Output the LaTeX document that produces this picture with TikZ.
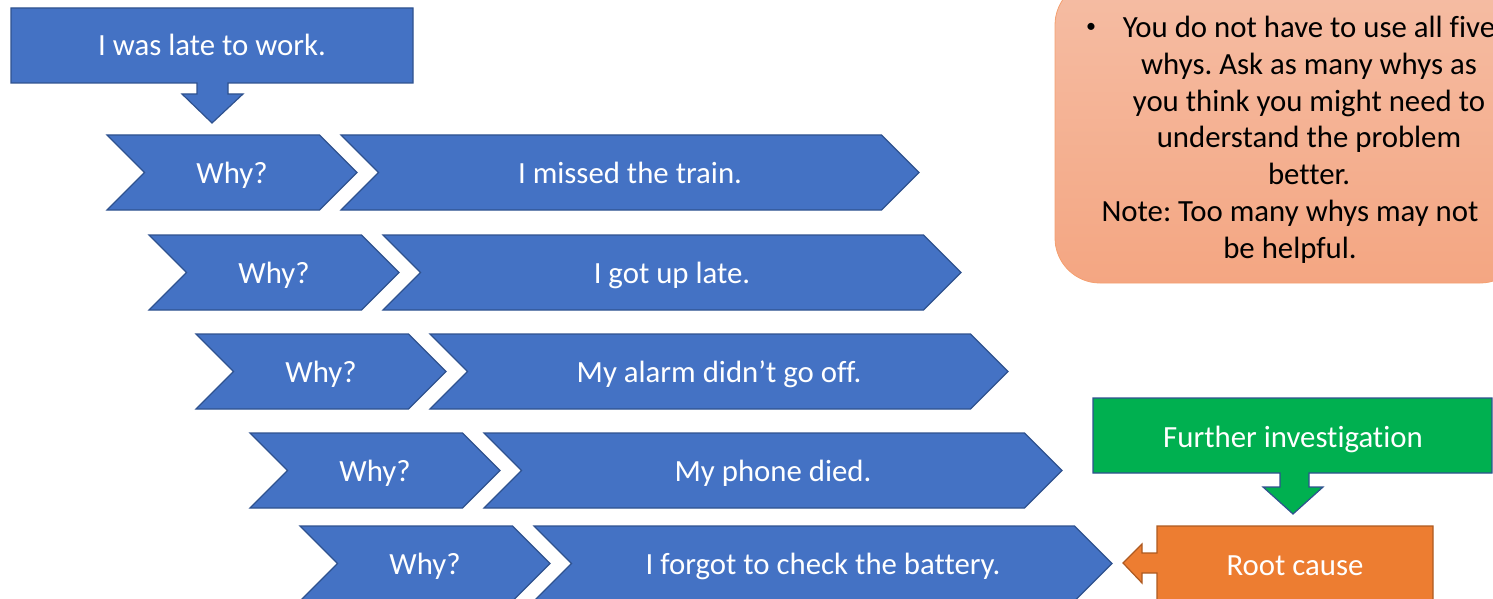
\documentclass[tikz,border=0pt]{standalone}
\usepackage{fontspec}
\setmainfont{Carlito}[Ligatures=NoCommon]
\frenchspacing
\definecolor{cblue}{HTML}{4472C4}
\definecolor{cblueline}{HTML}{2F528F}
\definecolor{cgreen}{HTML}{00B050}
\definecolor{corange}{HTML}{ED7D31}
\definecolor{corangeline}{HTML}{AE5A21}
\definecolor{notetop}{HTML}{F5BDA4}
\definecolor{notebot}{HTML}{F4A682}
\definecolor{noteline}{HTML}{F4A070}
\tikzset{
  chevbox/.style={fill=cblue, draw=cblueline, line width=1.2pt, line join=miter},
  wtxt/.style={text=white, font=\fontsize{30.8}{36}\selectfont, inner sep=0pt, text height=23pt, text depth=7pt},
  ntxt/.style={text=black, font=\fontsize{30.8}{36.8}\selectfont, inner sep=0pt, align=center},
}
\newcommand\chevshape[5]{% left x, point x, center y, name, text
  \draw[chevbox] (#1,#3-37.5) -- (#2-37.5,#3-37.5) -- (#2,#3) -- (#2-37.5,#3+37.5)
     -- (#1,#3+37.5) -- (#1+37.5,#3) -- cycle;
  \node[wtxt] (#4) at ({(#1+#2)/2},#3+3) {#5};}
\begin{document}
\begin{tikzpicture}[x=1pt,y=-1pt]
\useasboundingbox (0,0) rectangle (1493,599);
% top callout
\draw[chevbox] (11,8) -- (413,8) -- (413,83) -- (228,83) -- (228,94) -- (243,94) -- (212,123)
  -- (182,94) -- (197,94) -- (197,83) -- (11,83) -- cycle;
\node[wtxt] (late) at (212,48) {I was late to work.};
% rows
\chevshape{107}{357}{172.5}{why1}{Why?}
\chevshape{341}{919}{172.5}{ans1}{I missed the train.}
\chevshape{149}{399}{272.5}{why2}{Why?}
\chevshape{383}{961}{272.5}{ans2}{I got up late.}
\chevshape{196}{446}{371.5}{why3}{Why?}
\chevshape{430}{1008}{371.5}{ans3}{My alarm didn’t go off.}
\chevshape{250}{500}{470.5}{why4}{Why?}
\chevshape{484}{1062}{470.5}{ans4}{My phone died.}
\chevshape{300}{550}{563.5}{why5}{Why?}
\chevshape{534}{1112}{563.5}{ans5}{I forgot to check the battery.}
% note box
\shade[top color=notetop, bottom color=notebot, draw=noteline, line width=0.8pt, rounded corners=45pt]
  (1055,-20) rectangle (1525,283);
\node[text=black, font=\fontsize{20}{24}\selectfont, inner sep=0pt] (bullet) at (1091,28) {•};
\node[ntxt, anchor=north] (tip) at (1309,16) {You do not have to use all five\\whys. Ask as many whys as\\you think you might need to\\understand the problem\\better.};
\node[ntxt, anchor=north] (note) at (1290,200) {Note: Too many whys may not\\be helpful.};
% further investigation
\draw[fill=cgreen, draw=cblueline, line width=1.2pt] (1093,398) -- (1492,398) -- (1492,473) -- (1309,473)
  -- (1309,487) -- (1323,487) -- (1293,514) -- (1263,487) -- (1280,487) -- (1280,473) -- (1093,473) -- cycle;
\node[wtxt] (further) at (1293,439) {Further investigation};
% root cause
\draw[fill=corange, draw=corangeline, line width=1.2pt] (1157,526) -- (1433,526) -- (1433,604) -- (1157,604)
  -- (1157,573) -- (1142,573) -- (1142,583) -- (1123,563) -- (1142,544) -- (1142,553) -- (1157,553) -- cycle;
\node[wtxt] (root) at (1295,567) {Root cause};
\end{tikzpicture}
\end{document}
